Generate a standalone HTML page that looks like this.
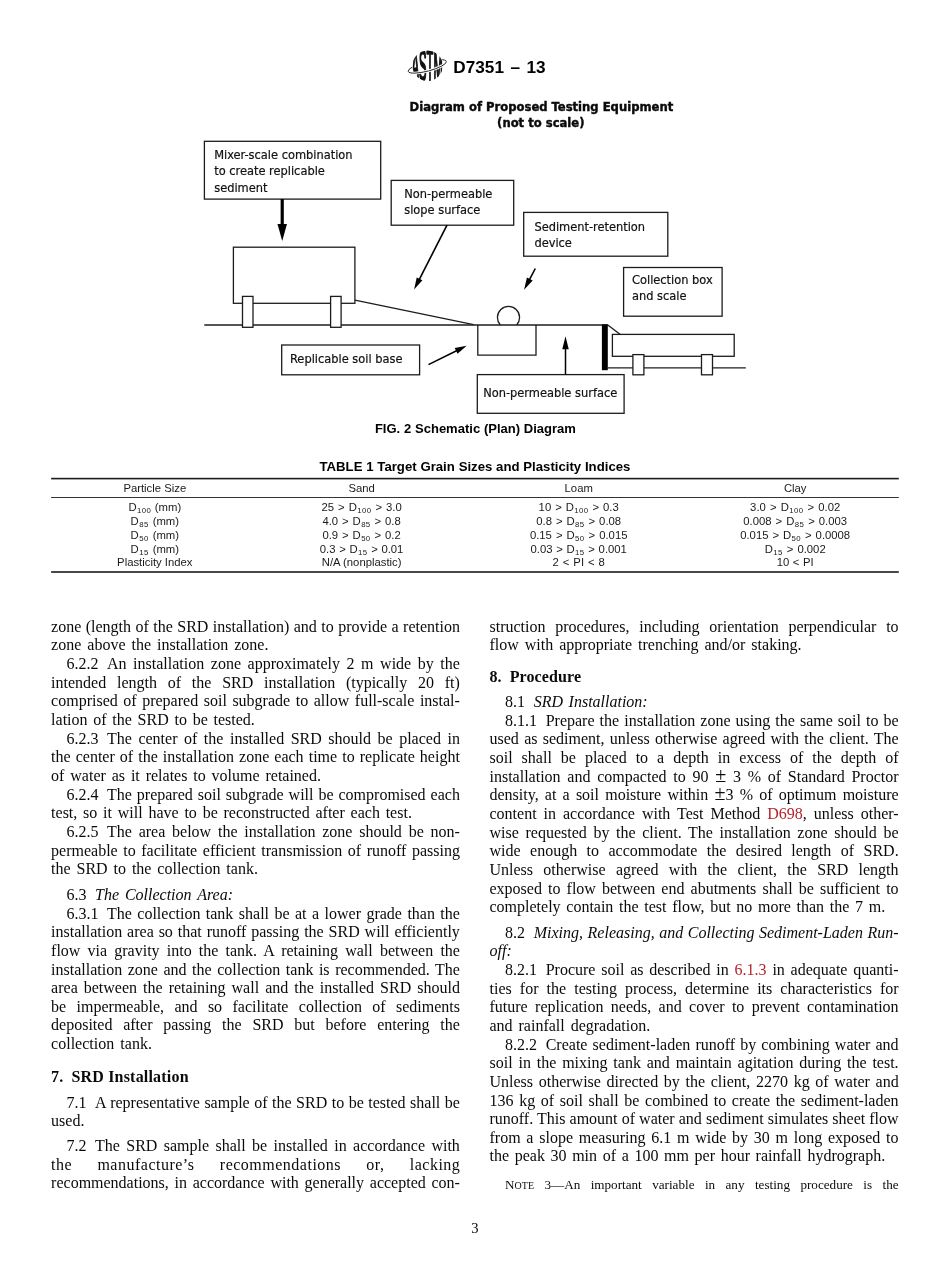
<!DOCTYPE html>
<html lang="en">
<head>
<meta charset="utf-8">
<title>D7351 – 13</title>
<style>
html,body{margin:0;padding:0;background:#fff;}
#page{position:relative;width:950px;height:1272px;overflow:hidden;background:#fff;font-family:"Liberation Serif","Times New Roman",serif;color:#0a0a0a;will-change:transform;}
.t{position:absolute;white-space:pre;font-size:16px;line-height:20px;height:20px;}
.t .n{margin-right:8.6px;}
.t .hn{margin-right:8px;}
.b{font-weight:bold;}
.r{color:#b5232b;}
.sc{font-size:76%;}
.pm{font-size:20px;line-height:0;}
.s{position:absolute;white-space:pre;line-height:20px;height:20px;font-family:"Liberation Sans",Arial,Helvetica,sans-serif;color:#000;}
.c{position:absolute;white-space:pre;font-family:"Liberation Sans",Arial,Helvetica,sans-serif;font-size:11.3px;line-height:20px;height:20px;color:#1a1a1a;}
.c sub{font-size:7.8px;line-height:0;vertical-align:-2.4px;letter-spacing:0.4px;margin-left:0.4px;}
.p{display:inline-block;width:0;height:0;}
</style>
</head>
<body>
<div id="page">
<svg id="dia" width="950" height="600" viewBox="0 0 950 600" style="position:absolute;left:0;top:0;overflow:visible">
<defs>
<clipPath id="globe"><circle cx="427.6" cy="65.8" r="15.1"/></clipPath>
</defs>
<!-- ASTM logo -->
<g id="logo">
<ellipse cx="427.3" cy="66.4" rx="19.7" ry="4.7" transform="rotate(-14.6 427.3 66.4)" fill="none" stroke="#222" stroke-width="0.9"/>
<circle cx="427.6" cy="65.8" r="15.6" fill="#fff"/>
<g clip-path="url(#globe)">
<text x="0" y="0" transform="translate(411.6 81.4) scale(0.66 2.56)" font-family="'Liberation Sans',Arial,sans-serif" font-size="17" fill="#111" stroke="#111" stroke-width="1.9" stroke-linejoin="round" style="vector-effect:non-scaling-stroke">ASTM</text>
</g>
<path d="M-19.7 0A19.7 4.7 0 0 0 19.7 0" transform="translate(427.3 66.4) rotate(-14.6)" fill="none" stroke="#fff" stroke-width="2.8"/>
<path d="M-19.7 0A19.7 4.7 0 0 0 19.7 0" transform="translate(427.3 66.4) rotate(-14.6)" fill="none" stroke="#222" stroke-width="0.9"/>
</g>
<!-- diagram -->
<g fill="none" stroke="#1c1c1c" stroke-width="1.3">
<rect x="204.4" y="141.3" width="176.3" height="57.8"/>
<rect x="391.2" y="180.4" width="122.5" height="44.8"/>
<rect x="523.7" y="212.4" width="144.1" height="43.8"/>
<rect x="623.6" y="267.5" width="98.5" height="48.7"/>
<rect x="281.7" y="345.0" width="137.9" height="29.8"/>
<rect x="477.3" y="374.6" width="146.8" height="38.7"/>
<!-- tank -->
<rect x="233.4" y="247.2" width="121.5" height="56.1"/>
<!-- ground -->
<path d="M204.3 325H607.8"/>
<path d="M354.9 300.2L473.6 324.7"/>
<!-- soil box -->
<path d="M477.8 325V355.2H536.0V325"/>
<!-- srd circle -->
<path d="M500.2 324.8A11.05 11.05 0 1 1 516.8 324.8"/>
<!-- tray -->
<path d="M607.8 324.9L620.3 334.4"/>
<rect x="612.4" y="334.4" width="121.8" height="21.9"/>
<path d="M607.8 367.8H745.8"/>
<g fill="#fff">
<rect x="242.5" y="296.4" width="10.5" height="30.9"/>
<rect x="330.6" y="296.4" width="10.5" height="30.9"/>
<rect x="632.9" y="354.6" width="11" height="20.2"/>
<rect x="701.5" y="354.6" width="11" height="20.2"/>
</g>
</g>
<!-- wall -->
<rect x="601.9" y="324.4" width="5.9" height="45.8" fill="#000"/>
<!-- arrows -->
<g stroke="#000" fill="#000">
<path d="M282.20 199.10L282.23 225.00" stroke-width="3.2" fill="none"/>
<path d="M282.25 241.00L277.48 224.01L286.98 223.99Z" stroke="none"/>
<path d="M447.00 225.20L419.10 279.80" stroke-width="1.6" fill="none"/>
<path d="M414.10 289.60L416.71 277.46L422.41 280.37Z" stroke="none"/>
<path d="M535.30 268.50L529.33 279.80" stroke-width="1.6" fill="none"/>
<path d="M524.10 289.70L526.93 277.39L532.67 280.43Z" stroke="none"/>
<path d="M428.50 364.60L457.02 350.49" stroke-width="1.6" fill="none"/>
<path d="M466.70 345.70L457.52 353.76L454.73 348.11Z" stroke="none"/>
<path d="M565.50 374.60L565.50 348.20" stroke-width="1.5" fill="none"/>
<path d="M565.50 336.20L568.75 349.20L562.25 349.20Z" stroke="none"/>
</g>
<!-- labels -->
<g font-family="'DejaVu Sans Condensed','DejaVu Sans',Verdana,sans-serif" font-size="12.7" fill="#111" stroke="#111" stroke-width="0.2">
<text x="214.2" y="159.2">Mixer-scale combination</text>
<text x="214.2" y="175.4">to create replicable</text>
<text x="214.2" y="191.5">sediment</text>
<text x="404.2" y="198.2">Non-permeable</text>
<text x="404.2" y="214.4">slope surface</text>
<text x="534.4" y="231.1">Sediment-retention</text>
<text x="534.4" y="247.2">device</text>
<text x="632.0" y="283.8">Collection box</text>
<text x="632.0" y="299.9">and scale</text>
<text x="290.0" y="362.8">Replicable soil base</text>
<text x="483.2" y="397.1">Non-permeable surface</text>
</g>
<g font-family="'DejaVu Sans Condensed','DejaVu Sans',Verdana,sans-serif" font-size="12.9" font-weight="bold" fill="#0a0a0a" stroke="#0a0a0a" stroke-width="0.4" text-anchor="middle">
<text x="541.4" y="110.6">Diagram of Proposed Testing Equipment</text>
<text x="540.8" y="126.6">(not to scale)</text>
</g>
<!-- table rules -->
<g fill="#1c1c1c">
<rect x="51.1" y="477.8" width="847.7" height="1.6"/>
<rect x="51.1" y="497.0" width="847.7" height="0.9"/>
<rect x="51.1" y="571.2" width="847.7" height="1.6"/>
</g>
</svg>
<div class="s b" id="k0" style="left:453.30px;top:57.00px;font-size:17.20px;word-spacing:1.70px;">D7351 – 13</div>
<div class="s b" id="k1" style="left:374.90px;top:419.01px;font-size:13.03px;word-spacing:0.17px;">FIG. 2 Schematic (Plan) Diagram</div>
<div class="s b" id="k2" style="left:319.50px;top:457.02px;font-size:13.18px;word-spacing:0.14px;">TABLE 1 Target Grain Sizes and Plasticity Indices</div>
<div class="c" id="k3" style="left:123.40px;top:478.02px;">Particle Size</div>
<div class="c" id="k4" style="left:348.40px;top:478.02px;">Sand</div>
<div class="c" id="k5" style="left:564.57px;top:478.02px;">Loam</div>
<div class="c" id="k6" style="left:783.90px;top:478.02px;">Clay</div>
<div class="c" id="k7" style="left:128.40px;top:497.01px;word-spacing:0.53px;">D<sub>100</sub> (mm)</div>
<div class="c" id="k8" style="left:321.40px;top:497.01px;word-spacing:0.90px;">25 &gt; D<sub>100</sub> &gt; 3.0</div>
<div class="c" id="k9" style="left:538.60px;top:497.01px;word-spacing:0.85px;">10 &gt; D<sub>100</sub> &gt; 0.3</div>
<div class="c" id="k10" style="left:750.10px;top:497.01px;word-spacing:0.99px;">3.0 &gt; D<sub>100</sub> &gt; 0.02</div>
<div class="c" id="k11" style="left:130.60px;top:511.02px;word-spacing:0.87px;">D<sub>85</sub> (mm)</div>
<div class="c" id="k12" style="left:322.40px;top:511.02px;word-spacing:0.80px;">4.0 &gt; D<sub>85</sub> &gt; 0.8</div>
<div class="c" id="k13" style="left:536.30px;top:511.02px;word-spacing:0.83px;">0.8 &gt; D<sub>85</sub> &gt; 0.08</div>
<div class="c" id="k14" style="left:743.30px;top:511.02px;word-spacing:0.86px;">0.008 &gt; D<sub>85</sub> &gt; 0.003</div>
<div class="c" id="k15" style="left:130.60px;top:525.01px;word-spacing:0.87px;">D<sub>50</sub> (mm)</div>
<div class="c" id="k16" style="left:322.40px;top:525.01px;word-spacing:0.80px;">0.9 &gt; D<sub>50</sub> &gt; 0.2</div>
<div class="c" id="k17" style="left:529.90px;top:525.01px;word-spacing:0.88px;">0.15 &gt; D<sub>50</sub> &gt; 0.015</div>
<div class="c" id="k18" style="left:740.20px;top:525.01px;word-spacing:0.84px;">0.015 &gt; D<sub>50</sub> &gt; 0.0008</div>
<div class="c" id="k19" style="left:130.60px;top:539.02px;word-spacing:0.87px;">D<sub>15</sub> (mm)</div>
<div class="c" id="k20" style="left:319.80px;top:539.02px;word-spacing:0.53px;">0.3 &gt; D<sub>15</sub> &gt; 0.01</div>
<div class="c" id="k21" style="left:530.50px;top:539.02px;word-spacing:0.58px;">0.03 &gt; D<sub>15</sub> &gt; 0.001</div>
<div class="c" id="k22" style="left:764.70px;top:539.02px;word-spacing:0.90px;">D<sub>15</sub> &gt; 0.002</div>
<div class="c" id="k23" style="left:117.12px;top:552.01px;">Plasticity Index</div>
<div class="c" id="k24" style="left:321.73px;top:552.01px;">N/A (nonplastic)</div>
<div class="c" id="k25" style="left:552.55px;top:552.01px;word-spacing:0.82px;">2 &lt; PI &lt; 8</div>
<div class="c" id="k26" style="left:776.65px;top:552.01px;word-spacing:0.49px;">10 &lt; PI</div>
<div class="t" id="k27" style="left:51.10px;top:617.01px;word-spacing:0.45px;">zone (length of the SRD installation) and to provide a retention</div>
<div class="t" id="k28" style="left:51.10px;top:635.00px;word-spacing:2.01px;">zone above the installation zone.</div>
<div class="t" id="k29" style="left:66.40px;top:654.01px;word-spacing:2.57px;"><span class="n">6.2.2</span>An installation zone approximately 2 m wide by the</div>
<div class="t" id="k30" style="left:51.10px;top:673.02px;word-spacing:6.77px;">intended length of the SRD installation (typically 20 ft)</div>
<div class="t" id="k31" style="left:51.10px;top:691.01px;word-spacing:1.56px;">comprised of prepared soil subgrade to allow full-scale instal-</div>
<div class="t" id="k32" style="left:51.10px;top:710.01px;word-spacing:1.73px;">lation of the SRD to be tested.</div>
<div class="t" id="k33" style="left:66.40px;top:729.01px;word-spacing:2.53px;"><span class="n">6.2.3</span>The center of the installed SRD should be placed in</div>
<div class="t" id="k34" style="left:51.10px;top:747.00px;word-spacing:1.07px;">the center of the installation zone each time to replicate height</div>
<div class="t" id="k35" style="left:51.10px;top:766.01px;word-spacing:1.87px;">of water as it relates to volume retained.</div>
<div class="t" id="k36" style="left:66.40px;top:785.01px;word-spacing:0.97px;"><span class="n">6.2.4</span>The prepared soil subgrade will be compromised each</div>
<div class="t" id="k37" style="left:51.10px;top:803.00px;word-spacing:1.78px;">test, so it will have to be reconstructed after each test.</div>
<div class="t" id="k38" style="left:66.40px;top:822.01px;word-spacing:2.79px;"><span class="n">6.2.5</span>The area below the installation zone should be non-</div>
<div class="t" id="k39" style="left:51.10px;top:841.00px;word-spacing:1.55px;">permeable to facilitate efficient transmission of runoff passing</div>
<div class="t" id="k40" style="left:51.10px;top:859.01px;word-spacing:1.90px;">the SRD to the collection tank.</div>
<div class="t" id="k41" style="left:66.40px;top:885.00px;word-spacing:1.90px;"><span class="n">6.3</span><i>The Collection Area:</i></div>
<div class="t" id="k42" style="left:66.40px;top:904.01px;word-spacing:1.44px;"><span class="n">6.3.1</span>The collection tank shall be at a lower grade than the</div>
<div class="t" id="k43" style="left:51.10px;top:922.00px;word-spacing:0.90px;">installation area so that runoff passing the SRD will efficiently</div>
<div class="t" id="k44" style="left:51.10px;top:941.01px;word-spacing:3.16px;">flow via gravity into the tank. A retaining wall between the</div>
<div class="t" id="k45" style="left:51.10px;top:960.02px;word-spacing:1.54px;">installation zone and the collection tank is recommended. The</div>
<div class="t" id="k46" style="left:51.10px;top:978.01px;word-spacing:2.03px;">area between the retaining wall and the installed SRD should</div>
<div class="t" id="k47" style="left:51.10px;top:997.00px;word-spacing:6.36px;">be impermeable, and so facilitate collection of sediments</div>
<div class="t" id="k48" style="left:51.10px;top:1015.01px;word-spacing:6.78px;">deposited after passing the SRD but before entering the</div>
<div class="t" id="k49" style="left:51.10px;top:1034.02px;word-spacing:2.16px;">collection tank.</div>
<div class="t b" id="k50" style="left:51.10px;top:1067.00px;letter-spacing:0.20px;word-spacing:-0.16px;"><span class="hn">7.</span>SRD Installation</div>
<div class="t" id="k51" style="left:66.40px;top:1093.01px;word-spacing:0.50px;"><span class="n">7.1</span>A representative sample of the SRD to be tested shall be</div>
<div class="t" id="k52" style="left:51.10px;top:1111.01px;">used.</div>
<div class="t" id="k53" style="left:66.40px;top:1136.01px;word-spacing:2.40px;"><span class="n">7.2</span>The SRD sample shall be installed in accordance with</div>
<div class="t" id="k54" style="left:51.10px;top:1155.00px;letter-spacing:0.50px;word-spacing:20.77px;">the manufacture’s recommendations or, lacking</div>
<div class="t" id="k55" style="left:51.10px;top:1173.01px;word-spacing:1.72px;">recommendations, in accordance with generally accepted con-</div>
<div class="t" id="k56" style="left:489.50px;top:617.01px;word-spacing:5.75px;">struction procedures, including orientation perpendicular to</div>
<div class="t" id="k57" style="left:489.50px;top:635.01px;word-spacing:1.99px;">flow with appropriate trenching and/or staking.</div>
<div class="t b" id="k58" style="left:489.50px;top:667.01px;letter-spacing:0.10px;"><span class="hn">8.</span>Procedure</div>
<div class="t" id="k59" style="left:505.10px;top:692.00px;word-spacing:1.57px;"><span class="n">8.1</span><i>SRD Installation:</i></div>
<div class="t" id="k60" style="left:505.10px;top:711.01px;word-spacing:1.05px;"><span class="n">8.1.1</span>Prepare the installation zone using the same soil to be</div>
<div class="t" id="k61" style="left:489.50px;top:729.00px;word-spacing:1.30px;">used as sediment, unless otherwise agreed with the client. The</div>
<div class="t" id="k62" style="left:489.50px;top:748.01px;word-spacing:4.99px;">soil shall be placed to a depth in excess of the depth of</div>
<div class="t" id="k63" style="left:489.50px;top:767.02px;word-spacing:2.75px;">installation and compacted to 90 <span class='pm'>±</span> 3 % of Standard Proctor</div>
<div class="t" id="k64" style="left:489.50px;top:785.01px;word-spacing:2.19px;">density, at a soil moisture within <span class='pm'>±</span>3 % of optimum moisture</div>
<div class="t" id="k65" style="left:489.50px;top:804.00px;word-spacing:2.98px;">content in accordance with Test Method <span class="r">D698</span>, unless other-</div>
<div class="t" id="k66" style="left:489.50px;top:823.01px;word-spacing:2.63px;">wise requested by the client. The installation zone should be</div>
<div class="t" id="k67" style="left:489.50px;top:841.02px;word-spacing:5.43px;">wide enough to accommodate the desired length of SRD.</div>
<div class="t" id="k68" style="left:489.50px;top:860.01px;word-spacing:6.31px;">Unless otherwise agreed with the client, the SRD length</div>
<div class="t" id="k69" style="left:489.50px;top:879.01px;word-spacing:2.09px;">exposed to flow between end abutments shall be sufficient to</div>
<div class="t" id="k70" style="left:489.50px;top:897.01px;word-spacing:1.69px;">completely contain the test flow, but no more than the 7 m.</div>
<div class="t" id="k71" style="left:505.10px;top:923.00px;word-spacing:0.55px;"><span class="n">8.2</span><i>Mixing, Releasing, and Collecting Sediment-Laden Run-</i></div>
<div class="t" id="k72" style="left:489.50px;top:941.01px;"><i>off:</i></div>
<div class="t" id="k73" style="left:505.10px;top:960.00px;word-spacing:1.79px;"><span class="n">8.2.1</span>Procure soil as described in <span class="r">6.1.3</span> in adequate quanti-</div>
<div class="t" id="k74" style="left:489.50px;top:979.01px;word-spacing:4.10px;">ties for the testing process, determine its characteristics for</div>
<div class="t" id="k75" style="left:489.50px;top:997.02px;word-spacing:3.35px;">future replication needs, and cover to prevent contamination</div>
<div class="t" id="k76" style="left:489.50px;top:1016.01px;word-spacing:1.94px;">and rainfall degradation.</div>
<div class="t" id="k77" style="left:505.10px;top:1035.00px;word-spacing:1.11px;"><span class="n">8.2.2</span>Create sediment-laden runoff by combining water and</div>
<div class="t" id="k78" style="left:489.50px;top:1053.01px;word-spacing:1.85px;">soil in the mixing tank and maintain agitation during the test.</div>
<div class="t" id="k79" style="left:489.50px;top:1072.02px;word-spacing:1.68px;">Unless otherwise directed by the client, 2270 kg of water and</div>
<div class="t" id="k80" style="left:489.50px;top:1091.01px;word-spacing:1.63px;">136 kg of soil shall be combined to create the sediment-laden</div>
<div class="t" id="k81" style="left:489.50px;top:1109.01px;word-spacing:0.10px;">runoff. This amount of water and sediment simulates sheet flow</div>
<div class="t" id="k82" style="left:489.50px;top:1128.01px;word-spacing:1.76px;">from a slope measuring 6.1 m wide by 30 m long exposed to</div>
<div class="t" id="k83" style="left:489.50px;top:1146.00px;word-spacing:1.64px;">the peak 30 min of a 100 mm per hour rainfall hydrograph.</div>
<div class="t" id="k84" style="left:505.10px;top:1175.02px;font-size:13.15px;word-spacing:7.14px;">N<span class="sc">OTE</span> 3—An important variable in any testing procedure is the</div>
<div class="t" id="k85" style="left:471.30px;top:1218.01px;font-size:14.60px;">3</div>
</div>
</body>
</html>
